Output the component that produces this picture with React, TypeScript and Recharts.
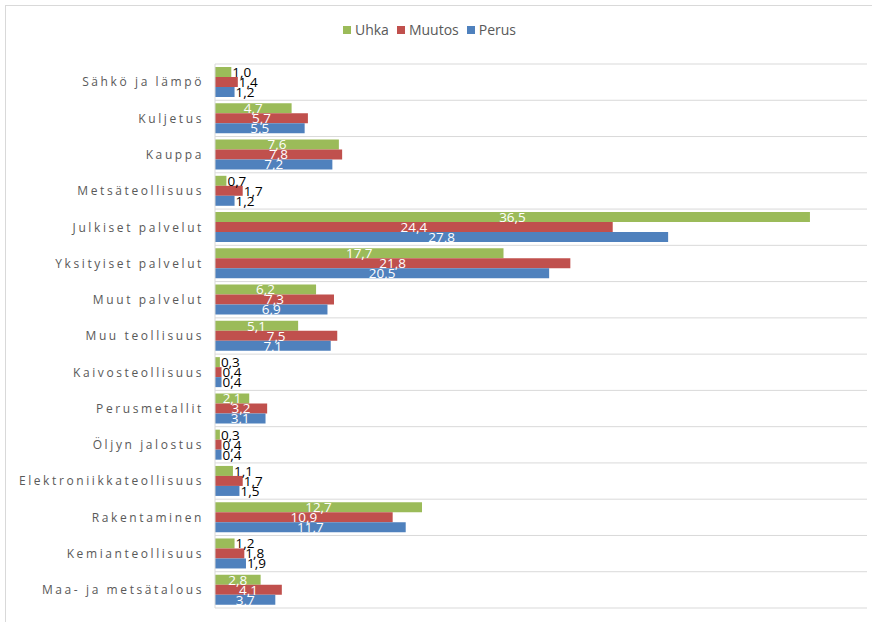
import { BarChart, Bar, XAxis, YAxis, CartesianGrid, Legend, LabelList } from "recharts";

const categories = [
  "Sähkö ja lämpö",
  "Kuljetus",
  "Kauppa",
  "Metsäteollisuus",
  "Julkiset palvelut",
  "Yksityiset palvelut",
  "Muut palvelut",
  "Muu teollisuus",
  "Kaivosteollisuus",
  "Perusmetallit",
  "Öljyn jalostus",
  "Elektroniikkateollisuus",
  "Rakentaminen",
  "Kemianteollisuus",
  "Maa- ja metsätalous",
];
const uhka = [1.0, 4.7, 7.6, 0.7, 36.5, 17.7, 6.2, 5.1, 0.3, 2.1, 0.3, 1.1, 12.7, 1.2, 2.8];
const muutos = [1.4, 5.7, 7.8, 1.7, 24.4, 21.8, 7.3, 7.5, 0.4, 3.2, 0.4, 1.7, 10.9, 1.8, 4.1];
const perus = [1.2, 5.5, 7.2, 1.2, 27.8, 20.5, 6.9, 7.1, 0.4, 3.1, 0.4, 1.5, 11.7, 1.9, 3.7];

const series = [
  { key: "Uhka", color: "#9BBB59" },
  { key: "Muutos", color: "#C0504D" },
  { key: "Perus", color: "#4F81BD" },
];

const data = categories.map((name, i) => ({
  name,
  Uhka: uhka[i],
  Muutos: muutos[i],
  Perus: perus[i],
}));

const FONT = "'Open Sans', sans-serif";

const fmt = (v: number) => v.toFixed(1).replace(".", ",");

function ValueLabel(props: any) {
  const { x, y, width, height, value } = props;
  const cy = y + height / 2;
  if (value >= 2) {
    return (
      <text x={x + width / 2} y={cy} dy="0.36em" textAnchor="middle" fill="#fff" fontSize={13.5} fontFamily={FONT}>
        {fmt(value)}
      </text>
    );
  }
  return (
    <text x={x + width + 1} y={cy} dy="0.36em" textAnchor="start" fill="#000" fontSize={13.5} fontFamily={FONT}>
      {fmt(value)}
    </text>
  );
}

function CatTick(props: any) {
  const { x, y, payload } = props;
  return (
    <text x={x - 3} y={y} dy="0.36em" textAnchor="end" fill="#595959" fontSize={12} fontFamily={FONT} letterSpacing={2.6}>
      {payload.value}
    </text>
  );
}

function LegendBox() {
  return (
    <div style={{ display: "flex", justifyContent: "center", alignItems: "center", fontFamily: FONT, fontSize: 14, color: "#595959", lineHeight: "20px" }}>
      {series.map((s) => (
        <div key={s.key} style={{ display: "flex", alignItems: "center", marginRight: 8 }}>
          <span style={{ display: "inline-block", width: 8, height: 8, background: s.color, marginRight: 4 }} />
          <span>{s.key}</span>
        </div>
      ))}
    </div>
  );
}

export default function App() {
  return (
    <div style={{ position: "absolute", left: 0, top: 0, width: 872, height: 622, background: "#fff", overflow: "hidden" }}>
      <div style={{ position: "absolute", left: 5, top: 5, width: 880, height: 630, border: "1px solid #d9d9d9" }} />
      <div style={{ position: "absolute", left: 0, top: 0 }}>
        <BarChart
          width={872}
          height={622}
          data={data}
          layout="vertical"
          margin={{ top: 20, right: 5, bottom: 14, left: 0 }}
          barCategoryGap={3}
          barGap={0}
        >
          <CartesianGrid
            vertical={false}
            stroke="#d9d9d9"
            horizontalCoordinatesGenerator={({ offset }: any) =>
              Array.from({ length: categories.length + 1 }, (_, i) => offset.top + (i * offset.height) / categories.length)
            }
          />
          <XAxis type="number" domain={[0, 40]} hide />
          <YAxis
            type="category"
            dataKey="name"
            width={215}
            tickLine={false}
            axisLine={{ stroke: "#d9d9d9" }}
            tick={<CatTick />}
            interval={0}
          />
          <Legend verticalAlign="top" height={44} content={<LegendBox />} />
          {series.map((s) => (
            <Bar key={s.key} dataKey={s.key} fill={s.color} isAnimationActive={false}>
              <LabelList dataKey={s.key} content={<ValueLabel />} />
            </Bar>
          ))}
        </BarChart>
      </div>
    </div>
  );
}
